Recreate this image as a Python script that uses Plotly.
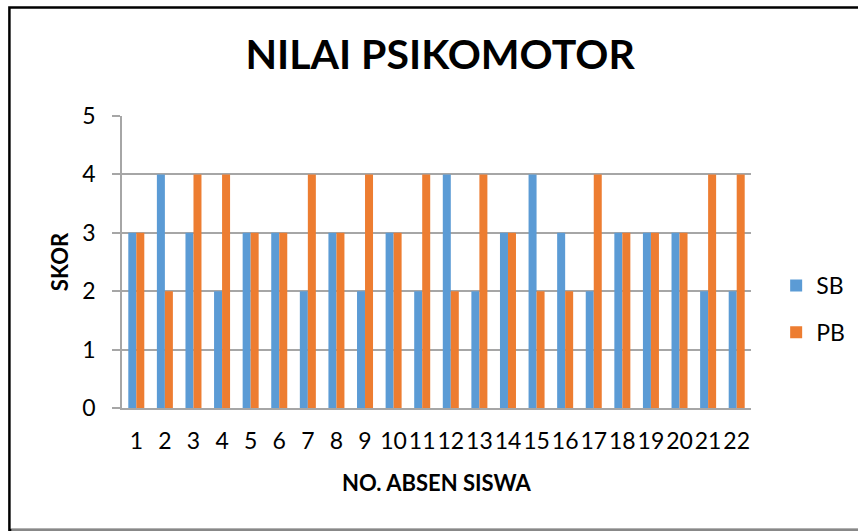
import plotly.graph_objects as go

categories = [str(i) for i in range(1, 23)]
sb_values = [3, 4, 3, 2, 3, 3, 2, 3, 2, 3, 2, 4, 2, 3, 4, 3, 2, 3, 3, 3, 2, 2]
pb_values = [3, 2, 4, 4, 3, 3, 4, 3, 4, 3, 4, 2, 4, 3, 2, 2, 4, 3, 3, 3, 4, 4]
series_names = ["SB", "PB"]
colors = ["#5B9BD5", "#ED7D31"]

FONT = "Lato"

fig = go.Figure()
for name, vals, col in zip(series_names, [sb_values, pb_values], colors):
    fig.add_trace(go.Bar(x=categories, y=vals, name=name, marker_color=col,
                         marker_line_width=0, legendgroup=name))

fig.update_layout(
    width=858, height=531, autosize=False,
    paper_bgcolor="white", plot_bgcolor="white",
    margin=dict(l=122, r=107, t=116, b=123, autoexpand=False),
    barmode="group", bargap=0.44, bargroupgap=0,
    font=dict(family=FONT, color="#000000"),
    title=dict(text="<b>NILAI PSIKOMOTOR</b>", x=0.513, xanchor="center",
               y=0.897, yanchor="middle", font=dict(size=41, family=FONT)),
    legend=dict(x=1.04, xanchor="left", y=0.339, yanchor="middle",
                font=dict(size=23, family=FONT), tracegroupgap=14,
                traceorder="grouped", bgcolor="rgba(0,0,0,0)"),
    showlegend=True,
    shapes=[
        dict(type="rect", xref="paper", yref="paper", x0=-0.179, x1=1.19,
             y0=-0.418, y1=1.372, line=dict(color="black", width=2.5),
             fillcolor="rgba(0,0,0,0)", layer="below"),
        dict(type="line", xref="paper", yref="paper", x0=-0.176, x1=1.19, y0=-0.418, y1=-0.418,
             line=dict(color="#888888", width=2.5), layer="above"),
    ],
)

fig.update_xaxes(
    type="category", showline=True, linecolor="#A6A6A6", linewidth=1.5,
    ticks="", tickangle=0, tickfont=dict(size=23, family=FONT), ticklabelstandoff=12,
    showgrid=False,
    title=dict(text="<b>NO. ABSEN SISWA</b>", font=dict(size=22, family=FONT), standoff=22),
)
fig.update_yaxes(
    range=[0, 5], dtick=1, showline=True, linecolor="#A6A6A6", linewidth=1.5,
    ticks="outside", ticklen=8, tickcolor="#A6A6A6", tickwidth=1.5,
    showgrid=True, gridcolor="#A6A6A6", gridwidth=1.5, zeroline=False,
    tickfont=dict(size=23, family=FONT), ticklabelstandoff=12,
    title=dict(text="<b>SKOR</b>", font=dict(size=22, family=FONT), standoff=8),
)

fig.write_html("out.html", config={"displayModeBar": False},
               post_script="document.body.style.margin='0px';")
